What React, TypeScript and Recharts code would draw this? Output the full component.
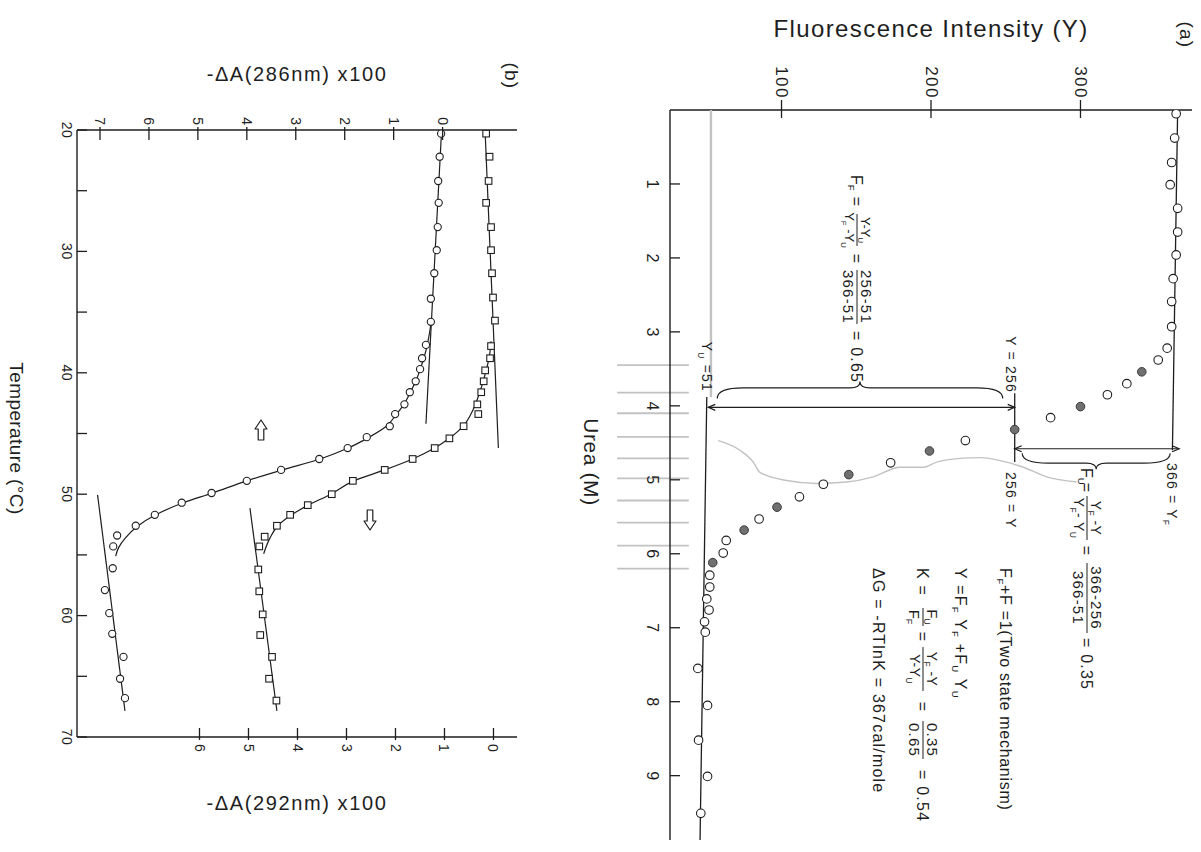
import React from 'react'
import { ScatterChart, Scatter, XAxis, YAxis, ReferenceLine } from 'recharts'

const INK = '#1e1e1e'
const PENCIL = '#c2c2c2'
const FONT = '"Liberation Sans", Arial, Helvetica, sans-serif'

// ---------- (a) urea unfolding, fluorescence ----------
const ureaTicks = [1, 2, 3, 4, 5, 6, 7, 8, 9]
const fluorTicks = [100, 200, 300]

const ureaOpen = [0.05, 0.38, 0.71, 1.01, 1.33, 1.65, 1.96, 2.28, 2.59, 2.93, 3.22, 3.38, 3.7, 3.85, 4.16, 4.47, 4.77, 5.06, 5.23, 5.53, 5.82, 5.99, 6.29, 6.45, 6.61, 6.76, 6.92, 7.06, 7.55, 8.05, 8.52, 9.01, 9.51]
const fluorOpen = [364, 363, 361, 360, 365, 365, 364, 362, 361, 361, 358, 352, 331, 318, 280, 223, 173, 128, 112, 85, 63, 61, 52, 52, 50, 51.5, 48.5, 49, 44, 50.5, 44.5, 50.5, 46]
const ureaFilled = [3.54, 4.01, 4.32, 4.61, 4.93, 5.37, 5.68, 6.12]
const fluorFilled = [341, 300, 256, 199, 145, 97, 75, 54]

const foldedBaseUrea = [0, 4.6]
const foldedBaseFluor = [365, 361.5]
const unfoldedBaseUrea = [3.88, 9.87]
const unfoldedBaseFluor = [50, 45.5]
const pencilBaseUrea = [0, 3.88]
const pencilBaseFluor = [52.8, 52.8]

// grey hand-drawn brace under the transition
const pencilBraceUrea = [4.47, 4.6, 4.76, 4.9, 5.01, 5.05, 5.03, 4.96, 4.83, 4.83, 4.76, 4.71, 4.7, 4.75, 4.83, 4.96, 5.03]
const pencilBraceFluor = [57.7, 72.2, 81.1, 85.6, 103.5, 123.5, 143.5, 161.4, 179.3, 194.9, 203.8, 219.4, 232.8, 248.4, 261.8, 277.4, 297.4]
// pencil ruler marks across the urea axis
const pencilMarkUrea = [3.45, 3.82, 4.1, 4.42, 4.71, 4.98, 5.28, 5.58, 5.89, 6.2]
const pencilMarkSpan = [-10, 38]

const yF = 366
const yU = 51
const yMid = 256
const arrowUrea = [4.02, 4.58]
const midMarkUrea = [3.83, 4.76]
const braceUrea = [3.9, 4.64]

// ---------- (b) thermal unfolding, difference absorbance ----------
const tempTicks = [20, 25, 30, 35, 40, 45, 50, 55, 60, 65, 70]
const a286Ticks = [0, 1, 2, 3, 4, 5, 6, 7]
const a292Ticks = [0, 1, 2, 3, 4, 5, 6]

const tempCirc = [20.3, 22.2, 24.2, 26.0, 28.0, 29.9, 31.8, 33.9, 35.8, 37.7, 38.8, 39.7, 40.7, 41.6, 42.6, 43.4, 44.4, 45.3, 46.2, 47.1, 48.0, 48.9, 49.9, 50.7, 51.7, 52.6, 53.4, 54.3, 56.1, 57.9, 59.8, 61.5, 63.4, 65.2, 66.8]
const dA286 = [0.03, 0.06, 0.09, 0.08, 0.1, 0.12, 0.17, 0.24, 0.24, 0.34, 0.42, 0.46, 0.55, 0.67, 0.78, 0.97, 1.08, 1.55, 1.94, 2.52, 3.3, 4.0, 4.72, 5.33, 5.88, 6.27, 6.65, 6.73, 6.74, 6.9, 6.81, 6.75, 6.52, 6.59, 6.49]
const tempSq = [20.3, 22.2, 24.2, 26.0, 28.0, 29.9, 31.8, 33.8, 35.7, 37.8, 38.8, 39.8, 40.7, 41.6, 42.6, 43.4, 44.4, 45.4, 46.2, 47.1, 48.0, 48.9, 50.0, 50.9, 51.7, 52.6, 53.5, 54.3, 56.2, 58.0, 59.9, 61.6, 63.4, 65.2, 67.0]
const dA292 = [0.15, 0.08, 0.1, 0.15, 0.05, 0.05, 0.03, 0.01, -0.03, 0.05, 0.07, 0.17, 0.2, 0.25, 0.33, 0.31, 0.61, 0.9, 1.2, 1.65, 2.22, 2.87, 3.3, 3.79, 4.15, 4.42, 4.67, 4.78, 4.8, 4.78, 4.71, 4.76, 4.52, 4.58, 4.43]

const circNativeT = [20, 44.2]
const circNativeA = [0.02, 0.34]
const circMeltT = [36.0, 38.0, 39.5, 40.7, 41.6, 42.6, 43.4, 44.4, 45.3, 46.2, 47.1, 48.0, 48.9, 49.9, 50.7, 51.7, 52.6, 53.6, 54.4, 55.1]
const circMeltA = [0.24, 0.33, 0.44, 0.55, 0.66, 0.79, 0.94, 1.15, 1.5, 1.93, 2.5, 3.27, 4.0, 4.7, 5.3, 5.86, 6.22, 6.48, 6.62, 6.68]
const circDenT = [50.05, 67.85]
const circDenA = [7.05, 6.49]
const sqNativeT = [20.2, 46.2]
const sqNativeA = [0.17, -0.1]
const sqMeltT = [37.4, 38.8, 39.8, 40.7, 41.6, 42.6, 43.4, 44.4, 45.4, 46.2, 47.1, 48.0, 48.9, 50.0, 50.9, 51.7, 52.6, 53.6, 54.9]
const sqMeltA = [0.05, 0.09, 0.15, 0.21, 0.28, 0.37, 0.46, 0.62, 0.9, 1.2, 1.65, 2.22, 2.85, 3.32, 3.78, 4.12, 4.4, 4.56, 4.69]
const sqDenT = [51.15, 67.85]
const sqDenA = [4.97, 4.42]

const zip = (xs: number[], ys: number[]) => xs.map((x, i) => ({ x, y: ys[i] }))

type Side = 'left' | 'right' | 'top' | 'bottom'

// tick drawn by hand so it can sit inside, outside or across the frame
function tickMaker(side: Side, inward: number, outward: number, gap: number, fontSize: number, labelled: (v: number) => boolean, spacing = 0) {
  return (props: any) => {
    const { x, y, payload } = props
    const v = payload?.value
    let x1 = x, x2 = x, y1 = y, y2 = y, tx = x, ty = y
    let anchor: 'start' | 'middle' | 'end' = 'middle'
    let base: any = 'central'
    if (side === 'bottom') { y1 = y - inward; y2 = y + outward; ty = y + outward + gap; base = 'hanging' }
    if (side === 'top') { y1 = y - outward; y2 = y + inward; ty = y - outward - gap; base = 'auto' }
    if (side === 'left') { x1 = x - outward; x2 = x + inward; tx = x - outward - gap; anchor = 'end' }
    if (side === 'right') { x1 = x - inward; x2 = x + outward; tx = x + outward + gap; anchor = 'start' }
    return (
      <g>
        <line x1={x1} y1={y1} x2={x2} y2={y2} stroke={INK} strokeWidth={1.3} />
        {labelled(v) && (
          <text x={tx} y={ty} textAnchor={anchor} dominantBaseline={base} fontSize={fontSize} fill={INK} style={{ letterSpacing: spacing }}>
            {v}
          </text>
        )}
      </g>
    )
  }
}

const noDot = () => <g />
const openCircle = (r: number) => (p: any) => <circle cx={p.cx} cy={p.cy} r={r} fill="#fff" stroke={INK} strokeWidth={1.1} />
const greyCircle = (r: number) => (p: any) => <circle cx={p.cx} cy={p.cy} r={r} fill="#707070" stroke="#3a3a3a" strokeWidth={1} />
const openSquare = (s: number) => (p: any) => <rect x={p.cx - s / 2} y={p.cy - s / 2} width={s} height={s} fill="#fff" stroke={INK} strokeWidth={1.1} />

const doubleArrow = (p: any) => {
  const { x1, y1, x2, y2 } = p
  const a = Math.atan2(y2 - y1, x2 - x1)
  const head = (x: number, y: number, ang: number) => {
    const L = 7, W = 3
    const bx = x - L * Math.cos(ang), by = y - L * Math.sin(ang)
    return `M${bx - W * Math.sin(ang)},${by + W * Math.cos(ang)} L${x},${y} L${bx + W * Math.sin(ang)},${by - W * Math.cos(ang)}`
  }
  return (
    <g stroke={INK} strokeWidth={1.2} fill="none">
      <line x1={x1} y1={y1} x2={x2} y2={y2} />
      <path d={head(x2, y2, a)} />
      <path d={head(x1, y1, a + Math.PI)} />
    </g>
  )
}

// curly brace along a vertical segment, tip pointing along x by dir
const braceShape = (dir: number, depth: number) => (p: any) => {
  const x = p.x1
  const ya = Math.min(p.y1, p.y2)
  const yb = Math.max(p.y1, p.y2)
  const ym = (ya + yb) / 2
  const b = x + dir * depth * 0.62
  const t = x + dir * depth
  const r = Math.min(26, (yb - ya) / 5)
  const d = `M${x},${ya} Q${b},${ya} ${b},${ya + r} L${b},${ym - 10} Q${b},${ym} ${t},${ym} Q${b},${ym} ${b},${ym + 10} L${b},${yb - r} Q${b},${yb} ${x},${yb}`
  return <path d={d} stroke={INK} strokeWidth={1.1} fill="none" />
}

const frame = { stroke: INK, strokeWidth: 1.4 }

function PanelA() {
  return (
    <ScatterChart width={852} height={640} margin={{ top: 9, right: 12, bottom: 0, left: 0 }}>
      <XAxis xAxisId="u" type="number" dataKey="x" domain={[0, 9.87]} allowDataOverflow ticks={ureaTicks} interval={0}
        height={109} tickSize={0} tickMargin={0} tickLine={false} axisLine={frame}
        tick={tickMaker('bottom', 10, 0, 12, 16, () => true)}
        label={{ value: 'Urea (M)', position: 'insideBottom', offset: 23, dx: -13, style: { fontSize: 21, fill: INK, letterSpacing: 0.6 } }} />
      <XAxis xAxisId="u2" orientation="top" type="number" dataKey="x" domain={[0, 9.87]} allowDataOverflow ticks={ureaTicks} interval={0}
        height={0} tickSize={0} tickMargin={0} tickLine={false} axisLine={frame}
        tick={tickMaker('top', 10, 0, 0, 0, () => false)} />
      <YAxis yAxisId="f" type="number" dataKey="y" domain={[25.4, 374.6]} allowDataOverflow ticks={fluorTicks} interval={0}
        width={110} tickSize={0} tickMargin={0} tickLine={false} axisLine={frame}
        tick={tickMaker('left', 8, 10, 1, 17, () => true, 1.5)}
        label={{ value: 'Fluorescence Intensity (Y)', angle: -90, position: 'insideLeft', offset: 28, style: { textAnchor: 'middle', fontSize: 24, fill: INK, letterSpacing: 1.4 } }} />
      <YAxis yAxisId="f2" orientation="right" type="number" dataKey="y" domain={[25.4, 374.6]} allowDataOverflow ticks={fluorTicks} interval={0}
        width={0} tickSize={0} tickMargin={0} tickLine={false} axisLine={frame}
        tick={tickMaker('right', 9, 0, 0, 0, () => false)} />

      {pencilMarkUrea.map((u) => (
        <ReferenceLine key={u} xAxisId="u" yAxisId="f" segment={[{ x: u, y: pencilMarkSpan[0] }, { x: u, y: pencilMarkSpan[1] }]} ifOverflow="visible" stroke={PENCIL} strokeWidth={1.8} />
      ))}
      <Scatter xAxisId="u" yAxisId="f" data={zip(pencilBaseUrea, pencilBaseFluor)} line={{ stroke: PENCIL, strokeWidth: 2.4 }} shape={noDot} isAnimationActive={false} />
      <Scatter xAxisId="u" yAxisId="f" data={zip(pencilBraceUrea, pencilBraceFluor)} line={{ stroke: PENCIL, strokeWidth: 1.4 }} lineJointType="monotoneY" shape={noDot} isAnimationActive={false} />
      <Scatter xAxisId="u" yAxisId="f" data={zip(foldedBaseUrea, foldedBaseFluor)} line={{ stroke: INK, strokeWidth: 1.3 }} shape={noDot} isAnimationActive={false} />
      <Scatter xAxisId="u" yAxisId="f" data={zip(unfoldedBaseUrea, unfoldedBaseFluor)} line={{ stroke: INK, strokeWidth: 1.3 }} shape={noDot} isAnimationActive={false} />

      <ReferenceLine xAxisId="u" yAxisId="f" segment={[{ x: midMarkUrea[0], y: yMid }, { x: midMarkUrea[1], y: yMid }]} stroke={INK} strokeWidth={1.3} />
      <ReferenceLine xAxisId="u" yAxisId="f" segment={[{ x: arrowUrea[0], y: yU }, { x: arrowUrea[0], y: yMid }]} shape={doubleArrow} />
      <ReferenceLine xAxisId="u" yAxisId="f" segment={[{ x: arrowUrea[1], y: yMid }, { x: arrowUrea[1], y: yF }]} shape={doubleArrow} />
      <ReferenceLine xAxisId="u" yAxisId="f" segment={[{ x: braceUrea[0], y: 57 }, { x: braceUrea[0], y: 248 }]} shape={braceShape(-1, 17)} />
      <ReferenceLine xAxisId="u" yAxisId="f" segment={[{ x: braceUrea[1], y: 261 }, { x: braceUrea[1], y: 360 }]} shape={braceShape(1, 16)} />

      <Scatter xAxisId="u" yAxisId="f" data={zip(ureaOpen, fluorOpen)} shape={openCircle(4.3)} isAnimationActive={false} />
      <Scatter xAxisId="u" yAxisId="f" data={zip(ureaFilled, fluorFilled)} shape={greyCircle(4.3)} isAnimationActive={false} />
    </ScatterChart>
  )
}

function PanelB() {
  const line = { stroke: INK, strokeWidth: 1.2 }
  return (
    <ScatterChart width={852} height={561} margin={{ top: 44, right: 0, bottom: 0, left: 0 }}>
      <XAxis xAxisId="t" type="number" dataKey="x" domain={[20, 70]} allowDataOverflow ticks={tempTicks} interval={0}
        height={77} tickSize={0} tickMargin={0} tickLine={false} axisLine={frame}
        tick={tickMaker('bottom', 10, 0, 5, 14, (v) => v % 10 === 0, 0.5)}
        label={{ value: 'Temperature (°C)', position: 'insideBottom', offset: 10, dx: 5, style: { fontSize: 19, fill: INK, letterSpacing: 0.4 } }} />
      <XAxis xAxisId="t2" orientation="top" type="number" dataKey="x" domain={[20, 70]} allowDataOverflow ticks={tempTicks} interval={0}
        height={0} tickSize={0} tickMargin={0} tickLine={false} axisLine={frame}
        tick={tickMaker('top', 10, 0, 0, 0, () => false)} />
      <YAxis yAxisId="a" type="number" dataKey="y" reversed domain={[-1.52, 7.47]} allowDataOverflow ticks={a286Ticks} interval={0}
        width={130} tickSize={0} tickMargin={0} tickLine={false} axisLine={frame}
        tick={tickMaker('left', 10, 3, 2, 14, () => true)}
        label={{ value: '-\u0394A(286nm)  x100', angle: -90, position: 'insideLeft', offset: 74, style: { textAnchor: 'middle', fontSize: 20, fill: INK, letterSpacing: 1.6 } }} />
      <YAxis yAxisId="b" orientation="right" type="number" dataKey="y" reversed domain={[-0.48, 8.5]} allowDataOverflow ticks={a292Ticks} interval={0}
        width={115} tickSize={0} tickMargin={0} tickLine={false} axisLine={frame}
        tick={tickMaker('right', 9, 3, 4, 14, () => true)}
        label={{ value: '-\u0394A(292nm)  x100', angle: -90, position: 'insideRight', offset: 49, style: { textAnchor: 'middle', fontSize: 20, fill: INK, letterSpacing: 1.6 } }} />

      <Scatter xAxisId="t" yAxisId="a" data={zip(circNativeT, circNativeA)} line={line} shape={noDot} isAnimationActive={false} />
      <Scatter xAxisId="t" yAxisId="a" data={zip(circMeltT, circMeltA)} line={line} lineJointType="monotoneX" shape={noDot} isAnimationActive={false} />
      <Scatter xAxisId="t" yAxisId="a" data={zip(circDenT, circDenA)} line={line} shape={noDot} isAnimationActive={false} />
      <Scatter xAxisId="t" yAxisId="b" data={zip(sqNativeT, sqNativeA)} line={line} shape={noDot} isAnimationActive={false} />
      <Scatter xAxisId="t" yAxisId="b" data={zip(sqMeltT, sqMeltA)} line={line} lineJointType="monotoneX" shape={noDot} isAnimationActive={false} />
      <Scatter xAxisId="t" yAxisId="b" data={zip(sqDenT, sqDenA)} line={line} shape={noDot} isAnimationActive={false} />

      <Scatter xAxisId="t" yAxisId="a" data={zip(tempCirc, dA286)} shape={openCircle(3.6)} isAnimationActive={false} />
      <Scatter xAxisId="t" yAxisId="b" data={zip(tempSq, dA292)} shape={openSquare(6.6)} isAnimationActive={false} />
    </ScatterChart>
  )
}

// ---------- free text on the figure ----------
const SUB = 3.5

function rich(s: string, fs: number) {
  const out: React.ReactNode[] = []
  let buf = ''
  let low = false
  let k = 0
  for (let i = 0; i < s.length; i++) {
    if (s[i] === '_' && i + 1 < s.length) {
      if (buf) {
        out.push(<tspan key={k++} dy={low ? -SUB : 0}>{buf}</tspan>)
        buf = ''
        low = false
      }
      out.push(<tspan key={k++} dy={low ? 0 : SUB} fontSize={fs * 0.6}>{s[i + 1]}</tspan>)
      low = true
      i++
    } else {
      buf += s[i]
    }
  }
  if (buf) out.push(<tspan key={k++} dy={low ? -SUB : 0}>{buf}</tspan>)
  return out
}

type Anchor = 'start' | 'middle' | 'end'

function Row({ x, cy, s, fs = 16, anchor = 'start', ls }: { x: number; cy: number; s: string; fs?: number; anchor?: Anchor; ls?: number }) {
  return (
    <text x={x} y={cy + fs * 0.36} fontSize={fs} textAnchor={anchor} style={ls === undefined ? undefined : { letterSpacing: ls }}>
      {rich(s, fs)}
    </text>
  )
}

function Frac({ cx, cy, num, den, w, fs = 15, ls }: { cx: number; cy: number; num: string; den: string; w: number; fs?: number; ls?: number }) {
  const st = ls === undefined ? undefined : { letterSpacing: ls }
  return (
    <g>
      <text x={cx} y={cy - 4} fontSize={fs} textAnchor="middle" style={st}>{rich(num, fs)}</text>
      <line x1={cx - w / 2} x2={cx + w / 2} y1={cy} y2={cy} stroke={INK} strokeWidth={1} />
      <text x={cx} y={cy + fs * 0.8 + 2} fontSize={fs} textAnchor="middle" style={st}>{rich(den, fs)}</text>
    </g>
  )
}

// hollow block arrow, tip along x by dir
function BlockArrow({ cx, cy, dir }: { cx: number; cy: number; dir: number }) {
  const L = 10
  const tip = cx + dir * L
  const neck = cx + dir * 1
  const tail = cx - dir * L
  const d = `M${tip},${cy} L${neck},${cy - 6} L${neck},${cy - 2.8} L${tail},${cy - 2.8} L${tail},${cy + 2.8} L${neck},${cy + 2.8} L${neck},${cy + 6} Z`
  return <path d={d} fill="#fff" stroke={INK} strokeWidth={1.2} strokeLinejoin="round" />
}

function Notes() {
  return (
    <svg width={852} height={1201} style={{ position: 'absolute', left: 0, top: 0, pointerEvents: 'none' }}>
      <g fill={INK} style={{ whiteSpace: 'pre', letterSpacing: 1.2 }}>
        <text x={35} y={15} fontSize={19} textAnchor="middle" dominantBaseline="central">(a)</text>
        <text x={76} y={690} fontSize={19} textAnchor="middle" dominantBaseline="central">(b)</text>

        <Row x={393} cy={190} s="Y = 256" fs={14} anchor="end" />
        <Row x={472} cy={190} s="256 = Y" fs={14} />
        <Row x={392} cy={494} s="Y_U =51" fs={14} anchor="end" />
        <Row x={463} cy={29} s="366 = Y_F" fs={14} />

        <Row x={175} cy={344} s="F_F" ls={0} />
        <Row x={202} cy={344} s="=" anchor="middle" />
        <Frac cx={230} cy={344} num="Y-Y_U" den="Y_F -Y_U" w={32} fs={13} ls={0} />
        <Row x={259} cy={344} s="=" anchor="middle" />
        <Frac cx={297} cy={344} num="256-51" den="366-51" w={54} />
        <Row x={331} cy={344} s="= 0.65" />

        <Row x={468} cy={114} s="F_U" ls={0} />
        <Row x={488} cy={114} s="=" anchor="middle" />
        <Frac cx={518} cy={114} num="Y_F -Y" den="Y_F- Y_U" w={44} fs={14} ls={0.4} />
        <Row x={551} cy={114} s="=" anchor="middle" />
        <Frac cx={598} cy={114} num="366-256" den="366-51" w={70} />
        <Row x={638} cy={114} s="= 0.35" />

        <Row x={568} cy={195} s="F_F+F  =1(Two state mechanism)" ls={0.7} />
        <Row x={568} cy={240} s="Y =F_F Y_F +F_U Y_U" />
        <Row x={568} cy={278} s="K =" />
        <Frac cx={617} cy={278} num="F_U" den="F_F" w={18} ls={0} />
        <Row x={637} cy={278} s="=" anchor="middle" />
        <Frac cx={669} cy={278} num="Y_F -Y" den="Y-Y_U" w={44} fs={14} ls={0.4} />
        <Row x={707} cy={278} s="=" anchor="middle" />
        <Frac cx={740} cy={278} num="0.35" den="0.65" w={38} />
        <Row x={770} cy={278} s="= 0.54" />
        <Row x={568} cy={322} s={'\u0394G = -RTlnK = 367cal/mole'} />
      </g>
      <BlockArrow cx={430} cy={940} dir={-1} />
      <BlockArrow cx={520} cy={831} dir={1} />
    </svg>
  )
}

export default function App() {
  return (
    <div style={{ position: 'fixed', left: 0, top: 0, width: 1201, height: 852, overflow: 'hidden', background: '#fff', fontFamily: FONT, color: INK }}>
      <div style={{ position: 'absolute', left: 0, top: 0, width: 852, height: 1201, transformOrigin: '0 0', transform: 'translate(1201px, 0px) rotate(90deg)' }}>
        <div style={{ position: 'absolute', left: 0, top: 0 }}>
          <PanelA />
        </div>
        <div style={{ position: 'absolute', left: 0, top: 640 }}>
          <PanelB />
        </div>
        <Notes />
      </div>
    </div>
  )
}
